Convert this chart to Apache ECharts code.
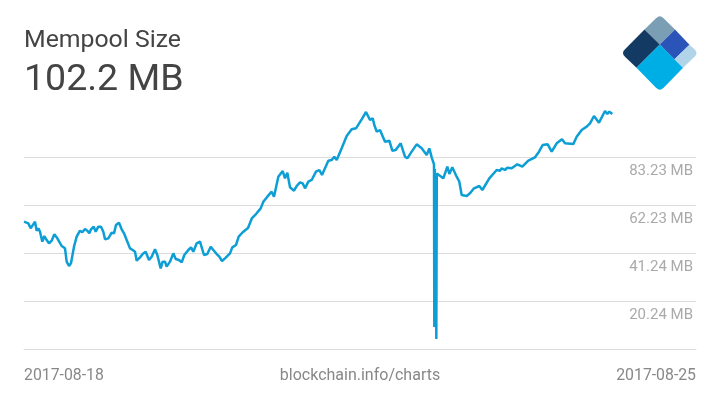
<!DOCTYPE html>
<html>
<head>
<meta charset="utf-8">
<style>
  html, body { margin: 0; padding: 0; background: #fff; }
  #chart { width: 720px; height: 405px; }
</style>
<script src="https://cdn.jsdelivr.net/npm/echarts@6/dist/echarts.min.js"></script>
</head>
<body>
<div id="chart"></div>
<script>
// hours since 2017-08-18
var hours = [0,0.5,1.08,1.67,2.08,2.75,3.17,3.58,4,4.58,5.08,5.67,6.25,6.92,7.58,8.33,9.42,10.25,10.67,11.25,11.75,12.5,13.17,14,14.58,15.25,15.83,16.33,16.75,17.42,17.92,18.58,19.25,19.83,20.25,21.08,21.92,22.5,23,23.75,24.42,25,25.67,26.5,27.17,27.75,28.17,29,29.67,30.42,31.25,31.92,32.75,33.33,34.17,34.67,35.25,35.67,36.5,37.33,37.92,38.75,39.42,40.08,41.08,41.75,42.33,43.17,44,45,45.83,46.67,47.33,48.17,48.83,49.5,50.25,51.5,52.08,53,53.67,54.75,56,57,58,59.17,59.83,60.83,61.33,61.92,62.5,63.58,64.67,65.25,65.83,66.5,67.5,68.17,69,69.67,70.25,71.08,71.92,73,73.83,74.5,76.08,76.92,77.58,78.17,79.42,80.67,81.92,83,84.42,85.5,85.92,86.5,87.17,87.58,88.17,89,90.25,91.33,92.08,92.92,94.17,95.25,95.83,96.92,98.17,99.42,100.67,101.33,101.92,102.33,102.5,102.58,102.7,102.9,103.08,103.2,103.58,104.83,105.83,106.33,107.08,108.17,108.83,109.42,110.67,111.5,112.5,113.83,114.58,115.08,116.33,118.17,119,119.42,120.25,120.83,121.92,123.33,124.58,126.08,127.75,128.75,129.67,130.92,131.92,133.17,134.5,135.25,137.33,138.17,139.42,140.67,141.5,142.5,143.75,145.25,145.83,146.33,147.08];
var mempool = [54.95,55.68,54.22,52.04,51.6,54.95,51.02,52.04,50.58,46.21,48.68,46.93,45.48,46.64,49.41,47.66,44.31,43.29,37.46,35.56,36.73,44.02,48.39,51.02,50.29,51.75,51.02,49.85,51.6,52.77,50.58,52.77,52.77,50.58,47.23,47.66,50.14,49.85,53.49,54.51,51.6,49.85,46.93,43.29,42.56,41.83,37.9,39.35,40.81,41.83,38.19,39.65,42.85,40.37,34.54,37.46,37.46,35.27,37.46,41.1,38.63,38.19,37.17,40.37,42.56,43.73,41.83,45.48,46.21,40.37,40.81,44.02,42.56,40.81,39.65,37.75,38.92,41.1,43.73,44.75,48.39,50.43,52.18,56.55,58.3,60.78,63.7,65.89,65.6,68.07,65.89,74.63,77.11,73.9,76.38,69.97,68.51,70.55,72.15,71.72,69.53,72.45,73.18,76.82,77.55,75.36,81.63,81.92,83.38,81.92,87.02,92.42,95.33,95.77,99.71,102.91,102.91,99.41,100.14,97.23,94.31,95.04,89.94,90.38,86,86.29,89.21,83.38,82.65,85.57,88.77,87.02,84.11,87.02,83.09,83.09,80,8.89,78,78,3.64,76,76.38,73.9,79,75.8,78.71,74.63,72.45,66.61,66.18,67.34,69.53,70.55,68.8,68.8,73.9,77.55,77.26,78.28,77.55,78.57,78.28,80.03,79,81.63,83.09,85.57,88.48,88.77,85.57,89.21,90.96,89.21,88.92,92.12,95.04,96.5,97.96,101.16,98.25,103.35,102.04,103.06,102.04];
var yTicks = [20.24, 41.24, 62.23, 83.23];
var xTicks = [0, 168];
var xLabels = ['2017-08-18', '2017-08-25'];

var points = [];
for (var i = 0; i < hours.length; i++) {
    points.push([hours[i], mempool[i]]);
}

var myChart = echarts.init(document.getElementById('chart'), null, { renderer: 'canvas' });
var fontName = 'Roboto';
function logoPiece(pts, color) {
    return { type: 'polygon', shape: { points: pts }, style: { fill: color } };
}
var option = {
    animation: false,
    backgroundColor: '#fff',
    title: [
        { text: 'Mempool Size', left: 24, top: 28, padding: 0, textStyle: { fontFamily: fontName, fontSize: 24.8, fontWeight: 'normal', color: '#444' } },
        { text: '102.2 MB', left: 24, top: 62, padding: 0, textStyle: { fontFamily: fontName, fontSize: 37.5, fontWeight: 'normal', color: '#444' } },
        { text: 'blockchain.info/charts', left: 'center', top: 368, padding: 0, textStyle: { fontFamily: fontName, fontSize: 16, fontWeight: 'normal', color: '#888' } }
    ],
    grid: { left: 24, right: 24, top: 100, bottom: 56 },
    xAxis: {
        type: 'value',
        min: 0,
        max: 168,
        splitLine: { show: false },
        axisTick: { show: false },
        axisLine: { show: true, onZero: false, lineStyle: { color: '#ddd', width: 1 } },
        axisLabel: {
            customValues: xTicks,
            alignMinLabel: 'left',
            alignMaxLabel: 'right',
            margin: 19,
            fontFamily: fontName,
            fontSize: 15.8,
            color: '#888',
            formatter: function (v) { return xLabels[xTicks.indexOf(v)]; }
        }
    },
    yAxis: {
        type: 'value',
        position: 'right',
        min: -0.73,
        max: 108.16,
        axisLine: { show: false },
        axisTick: { show: false, customValues: yTicks },
        splitLine: { show: true, lineStyle: { color: '#ddd', width: 1 } },
        axisLabel: {
            customValues: yTicks,
            inside: true,
            margin: 3,
            verticalAlign: 'top',
            padding: [7, 0, 0, 0],
            fontFamily: fontName,
            fontSize: 15,
            color: '#aaa',
            formatter: function (v) { return v.toFixed(2) + ' MB'; }
        }
    },
    series: [{
        type: 'line',
        data: points,
        showSymbol: false,
        clip: false,
        lineStyle: { color: '#0d9ed6', width: 2.5 }
    }],
    graphic: [
        logoPiece([[644.5,29.5],[655.5,18.8],[658,16.8],[659.8,16.2],[661.6,16.8],[664.1,18.8],[675,29.5],[659.8,44.5]], '#7a9fb5'),
        logoPiece([[644.5,29.5],[659.8,44.5],[636.5,67.8],[625.5,57.3],[623.5,55],[623,53],[623.5,51],[625.5,48.7]], '#123a63'),
        logoPiece([[659.8,44.5],[683.1,67.8],[664.1,87.2],[661.6,89.2],[659.8,89.8],[658,89.2],[655.5,87.2],[636.5,67.8]], '#00aee6'),
        logoPiece([[675,29.5],[689.5,44.8],[674.5,59.2],[659.8,44.5]], '#2b54b9'),
        logoPiece([[689.5,44.8],[694,48.7],[696,51],[696.5,53],[696,55],[694,57.3],[683.1,67.8],[674.5,59.2]], '#b1d4e8')
    ]
};
myChart.setOption(option);
</script>
</body>
</html>
